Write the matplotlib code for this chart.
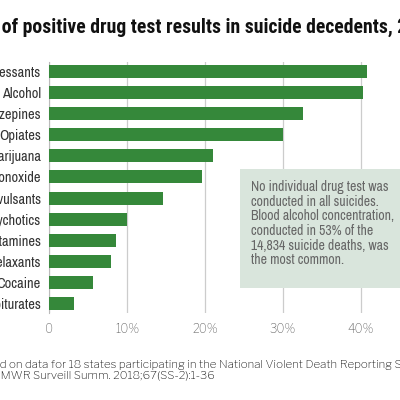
import matplotlib
matplotlib.use("Agg")
import matplotlib.pyplot as plt
from matplotlib import font_manager as fm
from matplotlib.patches import Rectangle

_names = {f.name for f in fm.fontManager.ttflist}

def pick(cands):
    for c in cands:
        if c in _names:
            return c
    return "DejaVu Sans"

COND = pick(["Archivo Narrow", "Roboto Condensed", "Asap Condensed", "Barlow Semi Condensed"])
TITLE = pick(["Roboto Condensed", "Archivo Narrow", "Asap Condensed", "Barlow Semi Condensed"])
BOOK = pick(["Libre Franklin", "Roboto", "Open Sans"])

categories = ["Antidepressants", "Alcohol", "Benzodiazepines", "Opiates", "Marijuana",
              "Carbon monoxide", "Anticonvulsants", "Antipsychotics", "Amphetamines",
              "Muscle relaxants", "Cocaine", "Barbiturates"]
values = [40.8, 40.3, 32.6, 30.0, 21.0, 19.6, 14.6, 10.0, 8.6, 7.9, 5.7, 3.2]
xticks = [0, 10, 20, 30, 40]
xticklabels = ["0", "10%", "20%", "30%", "40%"]

title = "Prevalence of positive drug test results in suicide decedents, 2015"
title_hidden = "Prevalence "
note1 = "Note: Based on data for 18 states participating in the National Violent Death Reporting System."
note1_hidden = "Note: Base"
note2 = "Source: MMWR Surveill Summ. 2018;67(SS-2):1-36"
note2_hidden = "Source: M"
box_text = ("No individual drug test was\nconducted in all suicides.\n"
            "Blood alcohol concentration,\nconducted in 53% of the\n"
            "14,834 suicide deaths, was\nthe most common.")

fig = plt.figure(figsize=(4, 4), dpi=100)
r = fig.canvas.get_renderer()

def width(s, **kw):
    t = fig.text(0, 0, s, **kw)
    w = t.get_window_extent(r).width
    t.remove()
    return w

def fit(s, target_px, **kw):
    return 10 * target_px / width(s, fontsize=10, **kw)

fs_ylab = fit("Alcohol", 39, fontfamily=COND)
fs_tick = fit("10%", 24, fontfamily=BOOK)
fs_title = 1.05 * fit("of positive drug test results in suicide decedents, 20", 396,
                      fontfamily=TITLE, fontweight="bold")
fs_note = fit("MWR Surveill Summ. 2018;67(SS-2):1-36", 215, fontfamily=BOOK)
fs_box = fit("No individual drug test was", 137, fontfamily=COND)

ax = fig.add_axes([0.1225, 0.2175, 0.8575, 0.6275])
ypos = list(range(len(categories)))
ax.barh(ypos, values, height=0.62, color="#35883a", zorder=3)
ax.set_xlim(0, 44)
ax.set_ylim(11.45, -0.45)
ax.set_xticks(xticks)
ax.set_xticklabels(xticklabels, fontfamily=BOOK, fontsize=fs_tick, color="#666666")
ax.set_yticks(ypos)
ax.set_yticklabels(categories, fontfamily=COND, fontsize=fs_ylab, color="#333333")
ax.tick_params(axis="both", length=0)
ax.tick_params(axis="x", pad=7)
ax.tick_params(axis="y", pad=6)
for s in ["top", "right", "bottom"]:
    ax.spines[s].set_visible(False)
ax.spines["left"].set_color("#bbbbbb")
ax.grid(axis="x", color="#cccccc", linewidth=0.9, zorder=0)
ax.set_axisbelow(True)

def place(full, hidden, x_px, y_px, **kw):
    w = width(hidden, **kw)
    fig.text((x_px - w) / 400, 1 - y_px / 400, full, va="center", ha="left", **kw)

place(title, title_hidden, 2, 27, fontfamily=TITLE, fontsize=fs_title, fontweight="bold", color="#111111")
place(note1, note1_hidden, 0, 365, fontfamily=BOOK, fontsize=fs_note, color="#111111")
place(note2, note2_hidden, 0, 376, fontfamily=BOOK, fontsize=fs_note, color="#111111")

fig.text(251 / 400, 1 - 180 / 400, box_text, ha="left", va="top", fontfamily=COND,
         fontsize=fs_box, color="#666666", linespacing=1.06, zorder=6)
fig.patches.append(Rectangle((240 / 400, 1 - 288 / 400), 160 / 400, 119 / 400,
                             transform=fig.transFigure, facecolor="#d9e5dc",
                             edgecolor="none", zorder=5))

fig.savefig("out.png", dpi=100)
